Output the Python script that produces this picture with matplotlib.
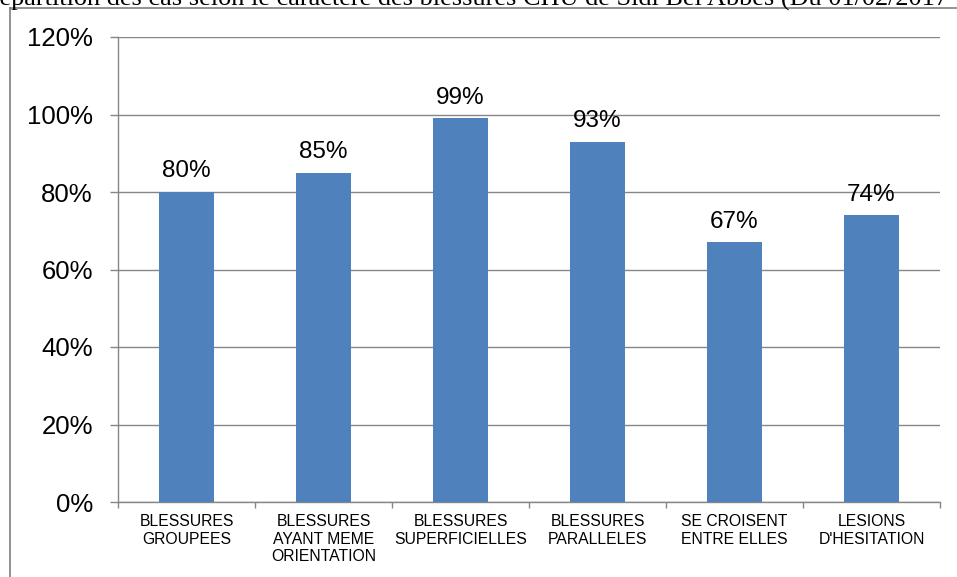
import matplotlib
matplotlib.use("Agg")
import matplotlib.pyplot as plt
from matplotlib.lines import Line2D
from matplotlib.ticker import FixedLocator, FuncFormatter

categories = ["BLESSURES\nGROUPEES", "BLESSURES\nAYANT MEME\nORIENTATION",
              "BLESSURES\nSUPERFICIELLES", "BLESSURES\nPARALLELES",
              "SE CROISENT\nENTRE ELLES", "LESIONS\nD'HESITATION"]
values = [80, 85, 99, 93, 67, 74]
yticks = [0, 20, 40, 60, 80, 100, 120]
title = "Répartition des cas selon le caractère des blessures CHU de Sidi Bel Abbès (Du 01/02/2017"

plt.rcParams['font.family'] = ['Liberation Sans', 'DejaVu Sans']

W, H = 957, 577
fig = plt.figure(figsize=(W / 100, H / 100), dpi=100)
ax = fig.add_axes([118 / W, 1 - 502 / H, (940 - 118) / W, (502 - 37) / H])

bar_color = '#4F81BD'
grid_color = '#868686'
x = list(range(len(categories)))
bars = ax.bar(x, values, width=0.4, color=bar_color, zorder=3)
for xi, v in zip(x, values):
    ax.annotate(f"{v}%", (xi, v), xytext=(0, 7), textcoords='offset points',
                ha='center', va='bottom', fontsize=17.5, color='black')

ax.set_ylim(0, 120)
ax.set_xlim(-0.5, len(categories) - 0.5)
ax.set_yticks(yticks)
ax.yaxis.set_major_formatter(FuncFormatter(lambda v, p: f"{int(v)}%"))
ax.tick_params(axis='y', labelsize=18.5, length=6, width=1, color=grid_color, pad=12)
ax.yaxis.grid(True, color=grid_color, linewidth=1, zorder=0)
ax.set_xticks(x)
ax.set_xticklabels(categories, fontsize=11.3, linespacing=1.2)
ax.tick_params(axis='x', which='major', length=0, pad=9)
ax.xaxis.set_minor_locator(FixedLocator([i - 0.5 for i in range(len(categories) + 1)]))
ax.tick_params(axis='x', which='minor', length=4, width=1, color=grid_color)

for s in ['top', 'right']:
    ax.spines[s].set_visible(False)
for s in ['left', 'bottom']:
    ax.spines[s].set_color(grid_color)
    ax.spines[s].set_linewidth(1)
ax.set_axisbelow(True)

# outer frame (left and top lines)
fig.add_artist(Line2D([10 / W, 10 / W], [0, 1 - 8 / H], transform=fig.transFigure,
                      color='#7f7f7f', linewidth=1.2))
fig.add_artist(Line2D([10 / W, 1], [1 - 8 / H, 1 - 8 / H], transform=fig.transFigure,
                      color='#7f7f7f', linewidth=1.2))

# clipped title at the top
fs = 16
t = fig.text(0, 1 - 6 / H, title, fontsize=fs, family=['Liberation Serif', 'DejaVu Serif'],
             ha='left', va='baseline')
fig.canvas.draw()
r = fig.canvas.get_renderer()
w_full = t.get_window_extent(r).width
tr = fig.text(0, 0, "R", fontsize=fs, family=['Liberation Serif', 'DejaVu Serif'])
w_r = tr.get_window_extent(r).width
tr.remove()
scale = 948 / (w_full - w_r)
fs2 = fs * scale
t.set_fontsize(fs2)
t.set_x(-(w_r * scale) / W)

fig.savefig("out.png", dpi=100)
